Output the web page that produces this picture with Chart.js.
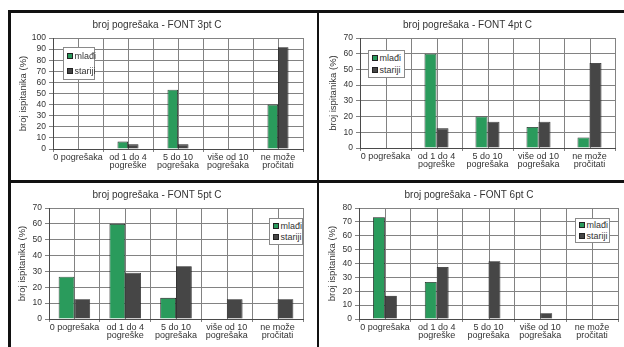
<!DOCTYPE html>
<html>
<head>
<meta charset="utf-8">
<script src="https://cdn.jsdelivr.net/npm/chart.js@4/dist/chart.umd.min.js"></script>
<style>
  html, body { margin: 0; padding: 0; background: #fff; }
  body { width: 624px; height: 347px; position: relative; overflow: hidden;
         font-family: "Liberation Sans", Arial, sans-serif; }
  .panel { position: absolute; }
  .rule { position: absolute; background: #111; }
  .legend { position: absolute; background: #fff; border: 1px solid #8a8a8a;
            box-sizing: border-box; font-size: 9px; color: #333;
            display: flex; flex-direction: column; justify-content: space-around;
            padding: 1px 0 1px 3px; white-space: nowrap; }
  .legend div { display: flex; align-items: center; line-height: 10px; }
  .legend i { display: inline-block; flex: 0 0 auto; width: 4px; height: 4px;
              border: 1px solid #222; margin-right: 1.5px; }
</style>
</head>
<body>
<canvas id="c3" class="panel"></canvas>
<canvas id="c4" class="panel"></canvas>
<canvas id="c5" class="panel"></canvas>
<canvas id="c6" class="panel"></canvas>

<div class="rule" style="left:8px;top:10px;width:616px;height:2.5px"></div>
<div class="rule" style="left:8px;top:10px;width:2.5px;height:337px"></div>
<div class="rule" style="left:316.5px;top:10px;width:2.5px;height:337px"></div>
<div class="rule" style="left:8px;top:180px;width:616px;height:2.5px"></div>

<script>
// Categories: number of reading mistakes
const categories = [
  ['0 pogrešaka'],
  ['od 1 do 4', 'pogreške'],
  ['5 do 10', 'pogrešaka'],
  ['više od 10', 'pogrešaka'],
  ['ne može', 'pročitati']
];

// Share of respondents (%) per font size
const mladi3   = [0, 6.67, 53.33, 0, 40];
const stariji3 = [0, 4.17, 4.17, 0, 91.67];

const mladi4   = [0, 60, 20, 13.33, 6.67];
const stariji4 = [0, 12.5, 16.67, 16.67, 54.17];

const mladi5   = [26.67, 60, 13.33, 0, 0];
const stariji5 = [12.5, 29.17, 33.33, 12.5, 12.5];

const mladi6   = [73.33, 26.67, 0, 0, 0];
const stariji6 = [16.67, 37.5, 41.67, 4.17, 0];

const seriesNames = ['mlađi', 'stariji'];
const titles = ['broj pogrešaka - FONT 3pt C', 'broj pogrešaka - FONT 4pt C',
                'broj pogrešaka - FONT 5pt C', 'broj pogrešaka - FONT 6pt C'];
const yMaxima = [100, 70, 70, 80];
const yAxisTitle = 'broj ispitanika (%)';

const GREEN = '#2a9b5c';
const DARK = '#464646';
const GRID = '#828282';
const TEXT = '#333';
const FONT = '"Liberation Sans", Arial, sans-serif';

// Extra vertical grid lines through the middle of every category
const centerLines = {
  id: 'centerLines',
  beforeDatasetsDraw(chart) {
    const { ctx, chartArea: a, scales: { x } } = chart;
    ctx.save();
    ctx.strokeStyle = GRID;
    ctx.lineWidth = 1;
    ctx.beginPath();
    for (let i = 0; i < chart.data.labels.length; i++) {
      const px = Math.round(x.getPixelForValue(i)) + 0.5;
      ctx.moveTo(px, a.top);
      ctx.lineTo(px, a.bottom);
    }
    ctx.stroke();
    ctx.restore();
  }
};

function panel(id, box, plot, title, yMax, young, old, groupPct, legendBox) {
  const cv = document.getElementById(id);
  cv.style.left = box.x + 'px';
  cv.style.top = box.y + 'px';
  cv.style.width = box.w + 'px';
  cv.style.height = box.h + 'px';
  cv.width = box.w; cv.height = box.h;

  const bw = c => (c.raw ? 0.8 : 0);
  new Chart(cv, {
    type: 'bar',
    data: {
      labels: categories,
      datasets: [
        { label: seriesNames[0], data: young, backgroundColor: GREEN,
          borderColor: '#1c1c1c', borderWidth: bw, borderSkipped: 'bottom',
          categoryPercentage: groupPct, barPercentage: 1 },
        { label: seriesNames[1], data: old, backgroundColor: DARK,
          borderColor: '#1c1c1c', borderWidth: bw, borderSkipped: 'bottom',
          categoryPercentage: groupPct, barPercentage: 1 }
      ]
    },
    plugins: [centerLines],
    options: {
      responsive: false,
      animation: false,
      devicePixelRatio: 1,
      layout: { padding: { left: 0, right: box.w - plot.r, top: 0, bottom: 0 } },
      plugins: {
        legend: { display: false },
        tooltip: { enabled: false },
        title: {
          display: true, text: title, color: TEXT,
          font: { family: FONT, size: 10, weight: 'normal', lineHeight: 1.2 },
          padding: { top: plot.tc - 6, bottom: plot.t - plot.tc - 6 }
        }
      },
      scales: {
        x: {
          type: 'category',
          offset: true,
          grid: { offset: true, color: GRID, lineWidth: 1, tickLength: 3, drawTicks: true },
          border: { display: true, color: '#4a4a4a', width: 1 },
          ticks: { color: TEXT, padding: 1, maxRotation: 0, autoSkip: false,
                   font: { family: FONT, size: 9, lineHeight: 0.92 } },
          afterFit: s => { s.height = box.h - plot.b; }
        },
        y: {
          min: 0, max: yMax,
          grid: { color: GRID, lineWidth: 1, tickLength: 4 },
          border: { display: true, color: '#4a4a4a', width: 1 },
          ticks: { stepSize: 10, autoSkip: false, color: TEXT, padding: 3,
                   font: { family: FONT, size: 8.5 } },
          title: { display: true, text: yAxisTitle, color: TEXT,
                   font: { family: FONT, size: 9.5, lineHeight: 1.2 },
                   padding: { top: plot.yt - 5.7, bottom: 0 } },
          afterFit: s => { s.width = plot.l; }
        }
      }
    }
  });

  const lg = document.createElement('div');
  lg.className = 'legend';
  lg.style.left = legendBox.x + 'px';
  lg.style.top = legendBox.y + 'px';
  lg.style.width = legendBox.w + 'px';
  lg.style.height = legendBox.h + 'px';
  [GREEN, DARK].forEach((c, i) => {
    const row = document.createElement('div');
    const sw = document.createElement('i');
    sw.style.background = c;
    row.appendChild(sw);
    row.appendChild(document.createTextNode(seriesNames[i]));
    lg.appendChild(row);
  });
  document.body.appendChild(lg);
}

panel('c3', { x: 11, y: 13, w: 305, h: 167 }, { l: 42, r: 292, t: 25, b: 136, tc: 12, yt: 12 },
      titles[0], yMaxima[0], mladi3, stariji3, 0.42, { x: 63, y: 47, w: 32, h: 33 });
panel('c4', { x: 320, y: 13, w: 304, h: 167 }, { l: 40, r: 295, t: 25, b: 135, tc: 12, yt: 13 },
      titles[1], yMaxima[1], mladi4, stariji4, 0.47, { x: 368, y: 50, w: 37, h: 28 });
panel('c5', { x: 11, y: 184, w: 305, h: 163 }, { l: 38, r: 292, t: 24, b: 135, tc: 11, yt: 11 },
      titles[2], yMaxima[2], mladi5, stariji5, 0.62, { x: 269, y: 218, w: 34, h: 27 });
panel('c6', { x: 320, y: 184, w: 304, h: 163 }, { l: 39, r: 298, t: 24, b: 135, tc: 11, yt: 12 },
      titles[3], yMaxima[3], mladi6, stariji6, 0.46, { x: 575, y: 218, w: 35, h: 25 });
</script>
</body>
</html>
